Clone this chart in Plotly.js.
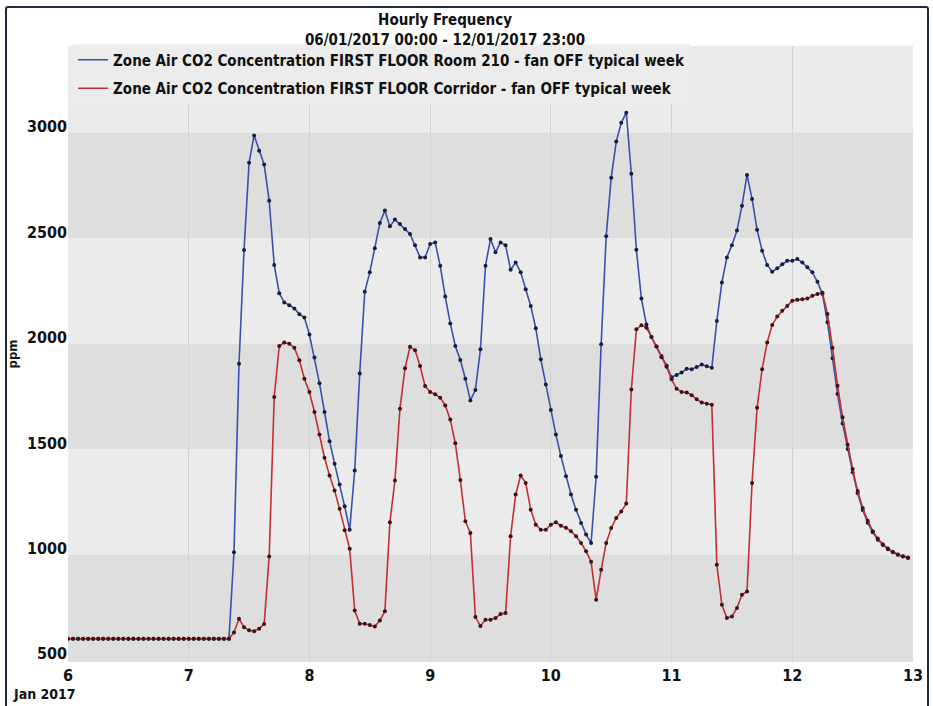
<!DOCTYPE html>
<html>
<head>
<meta charset="utf-8">
<script src="https://cdn.plot.ly/plotly-3.0.1.min.js"></script>
<style>
  html, body { margin: 0; padding: 0; background: #ffffff; }
  #chart { width: 933px; height: 706px; }
  #frame { position: absolute; left: 5px; top: 6px; width: 920px; height: 720px;
           border: 2px solid #1d2b3c; border-radius: 3px; pointer-events: none; }
</style>
</head>
<body>
<div id="chart"></div>
<div id="frame"></div>
<script>
// Series names
const seriesNames = [
  "Zone Air CO2 Concentration FIRST FLOOR Room 210 - fan OFF typical week",
  "Zone Air CO2 Concentration FIRST FLOOR Corridor - fan OFF typical week"
];

// Hourly values (ppm), 06/01/2017 00:00 .. 12/01/2017 23:00
const room210 = [
  600,600,600,600,600,600,600,600,600,600,600,600,600,600,600,600,600,600,600,600,600,600,600,600,
  600,600,600,600,600,600,600,600,600,1010,1904,2443,2856,2986,2914,2848,2677,2372,2238,2194,2181,2166,2139,2123,
  2042,1933,1811,1675,1537,1430,1331,1228,1117,1398,1858,2245,2337,2451,2571,2630,2555,2587,2566,2542,2519,2466,2408,2408,
  2471,2479,2368,2223,2095,1988,1922,1833,1730,1779,1972,2368,2495,2432,2479,2466,2349,2384,2337,2257,2178,2072,1925,1806,
  1684,1569,1466,1371,1284,1212,1149,1094,1054,1368,1996,2508,2785,2957,3046,3094,2804,2444,2213,2090,2030,1985,1940,1895,
  1840,1850,1862,1880,1878,1888,1900,1892,1885,2107,2289,2408,2466,2535,2653,2799,2685,2539,2440,2372,2340,2356,2376,2392,
  2392,2400,2384,2361,2337,2292,2234,2100,1930,1760,1620,1500,1390,1290,1210,1150,1105,1070,1045,1025,1010,998,990,983
];

const corridor = [
  600,600,600,600,600,600,600,600,600,600,600,600,600,600,600,600,600,600,600,600,600,600,600,600,
  600,600,600,600,600,600,600,600,600,630,695,655,640,636,648,670,990,1746,1988,2004,1999,1980,1920,1833,
  1770,1675,1569,1458,1374,1303,1216,1114,1027,734,671,671,665,658,687,730,1152,1350,1691,1882,1984,1968,1893,1798,
  1770,1759,1743,1706,1640,1527,1353,1157,1102,703,661,690,690,698,717,722,1086,1284,1374,1339,1212,1141,1117,1117,
  1141,1152,1136,1126,1110,1086,1054,1015,965,785,927,1054,1125,1173,1204,1241,1782,2067,2086,2075,2030,1985,1935,1890,
  1830,1785,1770,1768,1755,1735,1720,1714,1710,951,761,698,706,746,809,824,1339,1695,1878,2004,2087,2128,2155,2178,
  2202,2207,2210,2213,2226,2235,2240,2140,1980,1800,1650,1520,1405,1300,1220,1160,1110,1075,1048,1028,1012,1000,991,985
];

// X tick positions / labels
const dayTicks = ["2017-01-06","2017-01-07","2017-01-08","2017-01-09","2017-01-10","2017-01-11","2017-01-12","2017-01-13"];
const dayLabels = ["6","7","8","9","10","11","12","13"];
const yTicks = [500, 1000, 1500, 2000, 2500, 3000];

// Hourly timestamps for the week
const hours = [];
for (let i = 0; i < room210.length; i++) {
  const d = new Date(Date.UTC(2017, 0, 6, i));
  const p = n => String(n).padStart(2, "0");
  hours.push(d.getUTCFullYear() + "-" + p(d.getUTCMonth() + 1) + "-" + p(d.getUTCDate()) + " " + p(d.getUTCHours()) + ":00");
}

const FONT = "DejaVu Sans Condensed, Liberation Sans Narrow, DejaVu Sans, sans-serif";
const blue = "#3652ae";
const red = "#c3302e";

const traces = [
  { x: hours, y: room210, type: "scatter", mode: "lines", name: seriesNames[0],
    line: { color: blue, width: 1.6 }, legendgroup: "a", hoverinfo: "skip" },
  { x: hours, y: room210, type: "scatter", mode: "markers", name: seriesNames[0], showlegend: false,
    marker: { color: "#1b1d3a", size: 4 }, legendgroup: "a" },
  { x: hours, y: corridor, type: "scatter", mode: "lines", name: seriesNames[1],
    line: { color: red, width: 1.6 }, legendgroup: "b", hoverinfo: "skip" },
  { x: hours, y: corridor, type: "scatter", mode: "markers", name: seriesNames[1], showlegend: false,
    marker: { color: "#3a1416", size: 4 }, legendgroup: "b" }
];

// Alternating horizontal bands between the y ticks
const yTop = 3410;
const bandEdges = yTicks.concat([yTop]);
const shapes = [];
for (let i = 0; i < bandEdges.length - 1; i++) {
  shapes.push({
    type: "rect", xref: "paper", yref: "y", x0: 0, x1: 1,
    y0: bandEdges[i], y1: bandEdges[i + 1],
    fillcolor: (i % 2 === 0) ? "#dedede" : "#ebebeb",
    line: { width: 0 }, layer: "below"
  });
}
shapes.push({ type: "rect", xref: "paper", yref: "y", x0: 0, x1: 1, y0: 490, y1: 500,
  fillcolor: "#dedede", line: { width: 0 }, layer: "below" });

const layout = {
  width: 933, height: 706,
  margin: { l: 68, r: 20, t: 46, b: 44 },
  paper_bgcolor: "#ffffff",
  plot_bgcolor: "#ebebeb",
  title: {
    text: "<b>Hourly Frequency<br>06/01/2017 00:00 - 12/01/2017 23:00</b>",
    font: { family: FONT, size: 15, color: "#111" },
    xref: "container", x: 0.477, xanchor: "center",
    yref: "container", y: 0.964, yanchor: "middle"
  },
  showlegend: true,
  legend: {
    x: 0.006, y: 1.004, xanchor: "left", yanchor: "top",
    bgcolor: "rgba(236,236,236,0.85)", borderwidth: 0,
    font: { family: FONT, size: 15, color: "#111", weight: "bold" },
    traceorder: "grouped", tracegroupgap: 6
  },
  xaxis: {
    type: "date",
    range: ["2017-01-06", "2017-01-13"],
    tickvals: dayTicks, ticktext: dayLabels,
    tickfont: { family: FONT, size: 16, color: "#111", weight: "bold" },
    showgrid: true, gridcolor: "#d2d2d2", gridwidth: 1,
    zeroline: false, showline: false, ticks: "", ticklen: 0,
    ticklabelstandoff: 2
  },
  yaxis: {
    range: [490, yTop],
    tickvals: yTicks, ticktext: yTicks.map(String),
    tickfont: { family: FONT, size: 16, color: "#111", weight: "bold" },
    showgrid: false, zeroline: false, showline: false, ticks: "",
    ticklabelshift: -6,
    title: { text: "<b>ppm</b>", font: { family: FONT, size: 13, color: "#111" }, standoff: 6 }
  },
  shapes: shapes,
  annotations: [{
    text: "<b>Jan 2017</b>", xref: "x", yref: "paper", x: "2017-01-06", y: 0,
    xanchor: "right", yanchor: "top", xshift: 10, yshift: -22, showarrow: false,
    font: { family: FONT, size: 14, color: "#111" }
  }]
};

Plotly.newPlot("chart", traces, layout, { displayModeBar: false, responsive: false });
</script>
</body>
</html>
